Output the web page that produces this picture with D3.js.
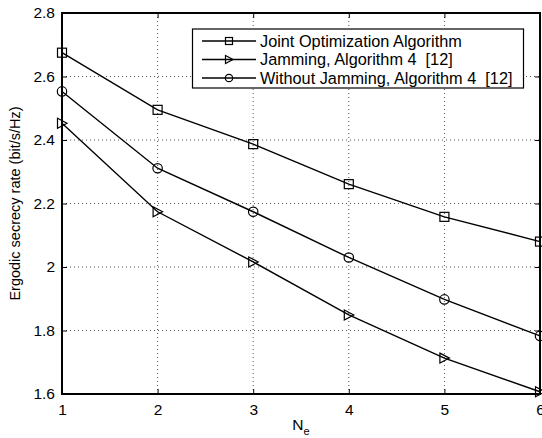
<!DOCTYPE html>
<html><head><meta charset="utf-8">
<script src="https://cdn.jsdelivr.net/npm/d3@7"></script>
<style>body{margin:0;background:#fff}svg{display:block}text{font-family:"Liberation Sans",Arial,sans-serif;white-space:pre}</style>
</head><body>
<script>
const xValues = [1, 2, 3, 4, 5, 6];
const jointOpt = [2.675, 2.495, 2.387, 2.261, 2.158, 2.08];
const jamming = [2.453, 2.174, 2.016, 1.849, 1.713, 1.607];
const withoutJamming = [2.553, 2.311, 2.174, 2.03, 1.898, 1.783];
const xTicks = [1, 2, 3, 4, 5, 6];
const yTicks = [1.6, 1.8, 2.0, 2.2, 2.4, 2.6, 2.8];
const legendLabels = ["Joint Optimization Algorithm", "Jamming, Algorithm 4  [12]", "Without Jamming, Algorithm 4  [12]"];

const W = 542, H = 438;
const m = {l: 62, r: 540, t: 13, b: 394};
const svg = d3.select("body").append("svg").attr("width", W).attr("height", H);
const x = d3.scaleLinear().domain([1, 6]).range([m.l, m.r]);
const y = d3.scaleLinear().domain([1.6, 2.8]).range([m.b, m.t]);

// grid
const g = svg.append("g");
g.selectAll(".gx").data(xTicks.slice(1, -1)).enter().append("line")
  .attr("x1", d => x(d)).attr("x2", d => x(d)).attr("y1", m.t).attr("y2", m.b)
  .attr("stroke", "#555").attr("stroke-width", 1).attr("stroke-dasharray", "1,3");
g.selectAll(".gy").data(yTicks.slice(1, -1)).enter().append("line")
  .attr("y1", d => y(d)).attr("y2", d => y(d)).attr("x1", m.l).attr("x2", m.r)
  .attr("stroke", "#555").attr("stroke-width", 1).attr("stroke-dasharray", "1,3");

// axes
const fmt = d => (d === 2 ? "2" : d3.format(".1f")(d));
const xa = svg.append("g").attr("transform", `translate(0,${m.b})`)
  .call(d3.axisBottom(x).tickValues(xTicks).tickSize(-5).tickPadding(10).tickFormat(d3.format("d")));
const ya = svg.append("g").attr("transform", `translate(${m.l},0)`)
  .call(d3.axisLeft(y).tickValues(yTicks).tickSize(-5).tickPadding(7).tickFormat(fmt));
const xt = svg.append("g").attr("transform", `translate(0,${m.t})`)
  .call(d3.axisTop(x).tickValues(xTicks).tickSize(-5).tickFormat(""));
const yr = svg.append("g").attr("transform", `translate(${m.r},0)`)
  .call(d3.axisRight(y).tickValues(yTicks).tickSize(-5).tickFormat(""));
[xa, ya, xt, yr].forEach(a => {
  a.select(".domain").remove();
  a.selectAll("line").attr("stroke", "#000").attr("stroke-width", 1);
  a.selectAll("text").attr("fill", "#000").style("font-size", "15.5px").style("font-family", '"Liberation Sans",Arial,sans-serif');
});
svg.append("rect").attr("x", m.l).attr("y", m.t).attr("width", m.r - m.l).attr("height", m.b - m.t)
  .attr("fill", "none").attr("stroke", "#000").attr("stroke-width", 2);

// series
const series = [
  {vals: jointOpt, mk: "square"},
  {vals: jamming, mk: "tri"},
  {vals: withoutJamming, mk: "circle"}
];
const line = d3.line().x((d, i) => x(xValues[i])).y(d => y(d));
function marker(sel, type, cx, cy) {
  if (type === "square") sel.append("rect").attr("x", cx - 4.5).attr("y", cy - 4.5).attr("width", 9).attr("height", 9);
  else if (type === "circle") sel.append("circle").attr("cx", cx).attr("cy", cy).attr("r", 4.7);
  else sel.append("path").attr("d", `M${cx - 4.5},${cy - 5}L${cx + 5},${cy}L${cx - 4.5},${cy + 5}Z`);
}
series.forEach(s => {
  svg.append("path").datum(s.vals).attr("d", line).attr("fill", "none").attr("stroke", "#000").attr("stroke-width", 1.4);
  const mg = svg.append("g").attr("fill", "none").attr("stroke", "#000").attr("stroke-width", 1.2);
  s.vals.forEach((v, i) => marker(mg, s.mk, x(xValues[i]), y(v)));
});

// legend
const lg = svg.append("g");
lg.append("rect").attr("x", 192.5).attr("y", 29).attr("width", 331).attr("height", 59)
  .attr("fill", "#fff").attr("stroke", "#000").attr("stroke-width", 1.2);
const rowsY = [41, 59.5, 78];
legendLabels.forEach((lab, i) => {
  const ly = rowsY[i];
  lg.append("line").attr("x1", 202).attr("x2", 256).attr("y1", ly).attr("y2", ly).attr("stroke", "#000").attr("stroke-width", 1.4);
  const mg = lg.append("g").attr("fill", "none").attr("stroke", "#000").attr("stroke-width", 1.2);
  const t = series[i].mk;
  if (t === "square") mg.append("rect").attr("x", 229 - 3.5).attr("y", ly - 3.5).attr("width", 7).attr("height", 7);
  else if (t === "circle") mg.append("circle").attr("cx", 229).attr("cy", ly).attr("r", 3.7);
  else mg.append("path").attr("d", `M${225.5},${ly - 4}L${233},${ly}L${225.5},${ly + 4}Z`);
  lg.append("text").attr("x", 260).attr("y", ly + 5.5).style("font-size", "16.3px").text(lab);
});

// axis labels
svg.append("text").attr("transform", `translate(20,${(m.t + m.b) / 2}) rotate(-90)`)
  .attr("text-anchor", "middle").style("font-size", "14.5px").text("Ergodic secrecy rate (bit/s/Hz)");
const xl = svg.append("text").attr("x", 301).attr("y", 430).attr("text-anchor", "middle").style("font-size", "15.5px");
xl.append("tspan").text("N");
xl.append("tspan").attr("dy", 5).style("font-size", "11px").text("e");
</script>
</body></html>
